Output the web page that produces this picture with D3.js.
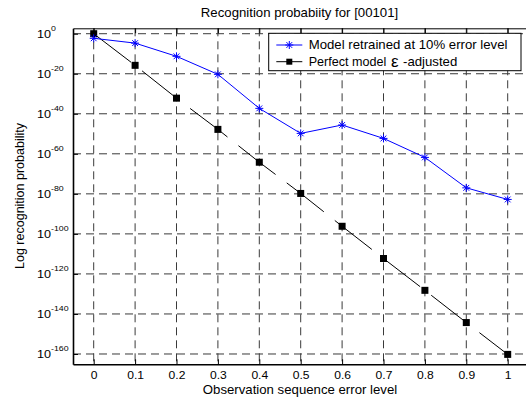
<!DOCTYPE html>
<html>
<head>
<meta charset="utf-8">
<script src="https://cdn.jsdelivr.net/npm/d3@7"></script>
<style>
  html, body { margin: 0; padding: 0; background: #fff; }
  svg { display: block; }
  text { font-family: "Liberation Sans", Arial, sans-serif; fill: #000; }
</style>
</head>
<body>
<svg id="chart" width="526" height="403"></svg>
<script>
// ---- data ----
const errorLevels = [0, 0.1, 0.2, 0.3, 0.4, 0.5, 0.6, 0.7, 0.8, 0.9, 1.0];
const xTickLabels = ["0", "0.1", "0.2", "0.3", "0.4", "0.5", "0.6", "0.7", "0.8", "0.9", "1"];
// log10 of recognition probability
const retrainedLog10 = [-2.3, -4.7, -11.3, -20.3, -37.3, -49.8, -45.6, -52.3, -61.8, -77.0, -82.8];
const perfectLog10   = [0, -15.8, -32.2, -47.8, -64.2, -79.8, -96.2, -112.3, -128.2, -144.3, -160.2];
const yTickExponents = [0, -20, -40, -60, -80, -100, -120, -140, -160];
const seriesNames = ["Model retrained at 10% error level", "Perfect model", "-adjusted"];
const titleText = "Recognition probabiity for [00101]";
const xLabelText = "Observation sequence error level";
const yLabelText = "Log recognition probability";

// ---- layout ----
const SX = 1.1; // horizontal text stretch seen in the reference
const svg = d3.select("#chart");
const plotLeft = 73, plotRight = 528.4, plotTop = 28.3, plotBottom = 364.3;

const x = d3.scaleLinear().domain([-0.05, 1.05]).range([plotLeft, plotRight]);
const y = d3.scaleLog().domain([Math.pow(10, -165.15), Math.pow(10, 2.7)]).range([plotBottom, plotTop]);

const retrained = errorLevels.map((e, i) => ({ x: e, y: Math.pow(10, retrainedLog10[i]) }));
const perfect = errorLevels.map((e, i) => ({ x: e, y: Math.pow(10, perfectLog10[i]) }));
const yTickValues = yTickExponents.map(e => Math.pow(10, e));

svg.append("rect").attr("width", 526).attr("height", 403).attr("fill", "#fff");

// ---- grid ----
const grid = svg.append("g").attr("stroke", "#3a3a3a").attr("stroke-width", 1).attr("stroke-dasharray", "8,5").attr("fill", "none");
grid.selectAll("line.h").data(yTickValues).join("line")
  .attr("class", "h")
  .attr("x1", plotLeft).attr("x2", plotRight)
  .attr("y1", d => y(d)).attr("y2", d => y(d));
grid.selectAll("line.v").data(errorLevels).join("line")
  .attr("class", "v")
  .attr("x1", d => x(d)).attr("x2", d => x(d))
  .attr("y1", plotTop).attr("y2", plotBottom);

// ---- axes ----
const xAxisBottom = svg.append("g").attr("transform", `translate(0,${plotBottom})`)
  .call(d3.axisBottom(x).tickValues(errorLevels).tickSizeInner(-5).tickSizeOuter(0)
        .tickFormat((d, i) => xTickLabels[i]));
xAxisBottom.select(".domain").attr("stroke", "#000").attr("stroke-width", 1.6);
xAxisBottom.selectAll(".tick line").attr("stroke", "#000");
xAxisBottom.selectAll(".tick text")
  .attr("y", 0).attr("dy", null)
  .attr("transform", `translate(0,14.8) scale(${SX},1)`)
  .attr("font-size", 11).attr("font-family", "Liberation Sans, Arial, sans-serif").attr("fill", "#000");

const xAxisTop = svg.append("g").attr("transform", `translate(0,${plotTop})`)
  .call(d3.axisTop(x).tickValues(errorLevels).tickSizeInner(-5).tickSizeOuter(0).tickFormat(""));
xAxisTop.select(".domain").attr("stroke", "#000").attr("stroke-width", 1);
xAxisTop.selectAll(".tick line").attr("stroke", "#000");

const yAxis = svg.append("g").attr("transform", `translate(${plotLeft},0)`)
  .call(d3.axisLeft(y).tickValues(yTickValues).tickSizeInner(-5).tickSizeOuter(0).tickFormat(() => ""));
yAxis.select(".domain").attr("stroke", "#000").attr("stroke-width", 1.6);
yAxis.selectAll(".tick line").attr("stroke", "#000");
yAxis.selectAll(".tick text").each(function (d, i) {
  const t = d3.select(this);
  t.text(null).attr("x", 0).attr("y", 0).attr("dy", null)
    .attr("text-anchor", "start")
    .attr("transform", `translate(${37 - plotLeft},3.4) scale(${SX},1)`)
    .attr("font-size", 11.5).attr("font-family", "Liberation Sans, Arial, sans-serif").attr("fill", "#000");
  t.append("tspan").text("10");
  t.append("tspan").attr("dy", -6.5).attr("font-size", 8).text(String(yTickExponents[i]));
});

// ---- series ----
const line = d3.line().x(d => x(d.x)).y(d => y(d.y));

svg.append("path").datum(perfect)
  .attr("d", line).attr("fill", "none").attr("stroke", "#000").attr("stroke-width", 1)
  .attr("stroke-dasharray", "47,14");

svg.append("path").datum(retrained)
  .attr("d", line).attr("fill", "none").attr("stroke", "#0000ff").attr("stroke-width", 1);

function asterisk(r) {
  const d = r * 0.72;
  return `M${-r},0H${r}M0,${-r}V${r}M${-d},${-d}L${d},${d}M${-d},${d}L${d},${-d}`;
}

svg.append("g").selectAll("rect").data(perfect).join("rect")
  .attr("x", d => x(d.x) - 3.5).attr("y", d => y(d.y) - 3.5)
  .attr("width", 7).attr("height", 7).attr("fill", "#000");

svg.append("g").selectAll("path").data(retrained).join("path")
  .attr("transform", d => `translate(${x(d.x)},${y(d.y)})`)
  .attr("d", asterisk(4)).attr("stroke", "#0000ff").attr("stroke-width", 1).attr("fill", "none");

// ---- legend ----
const lg = svg.append("g");
lg.append("rect").attr("x", 268.7).attr("y", 33.3).attr("width", 252.3).attr("height", 37.4)
  .attr("fill", "#fff").attr("stroke", "#000").attr("stroke-width", 1);
lg.append("line").attr("x1", 276.3).attr("x2", 302.3).attr("y1", 45).attr("y2", 45)
  .attr("stroke", "#0000ff").attr("stroke-width", 1);
lg.append("path").attr("transform", "translate(289.3,45)").attr("d", asterisk(4))
  .attr("stroke", "#0000ff").attr("fill", "none");
lg.append("line").attr("x1", 276.3).attr("x2", 302.3).attr("y1", 61.7).attr("y2", 61.7)
  .attr("stroke", "#000").attr("stroke-width", 1);
lg.append("rect").attr("x", 286.3).attr("y", 58.7).attr("width", 6).attr("height", 6).attr("fill", "#000");

function stretchedText(parent, tx, ty, str, size, anchor, sx) {
  return parent.append("text")
    .attr("transform", `translate(${tx},${ty}) scale(${sx || SX},1)`)
    .attr("font-size", size).attr("text-anchor", anchor || "start").text(str);
}
stretchedText(lg, 308.7, 49.3, seriesNames[0], 12);
stretchedText(lg, 308.7, 66, seriesNames[1], 12, "start", 1.05);
stretchedText(lg, 391, 66.5, "ε", 17, "start", 1.0).attr("font-family", "DejaVu Serif, serif");
stretchedText(lg, 403, 66, seriesNames[2], 12);

// ---- titles ----
stretchedText(svg, 299.5, 17, titleText, 12, "middle");
stretchedText(svg, 300, 393.5, xLabelText, 12, "middle");
svg.append("text")
  .attr("transform", `translate(23.5,196) rotate(-90)`)
  .attr("font-size", 12.5).attr("text-anchor", "middle").text(yLabelText);
</script>
</body>
</html>
